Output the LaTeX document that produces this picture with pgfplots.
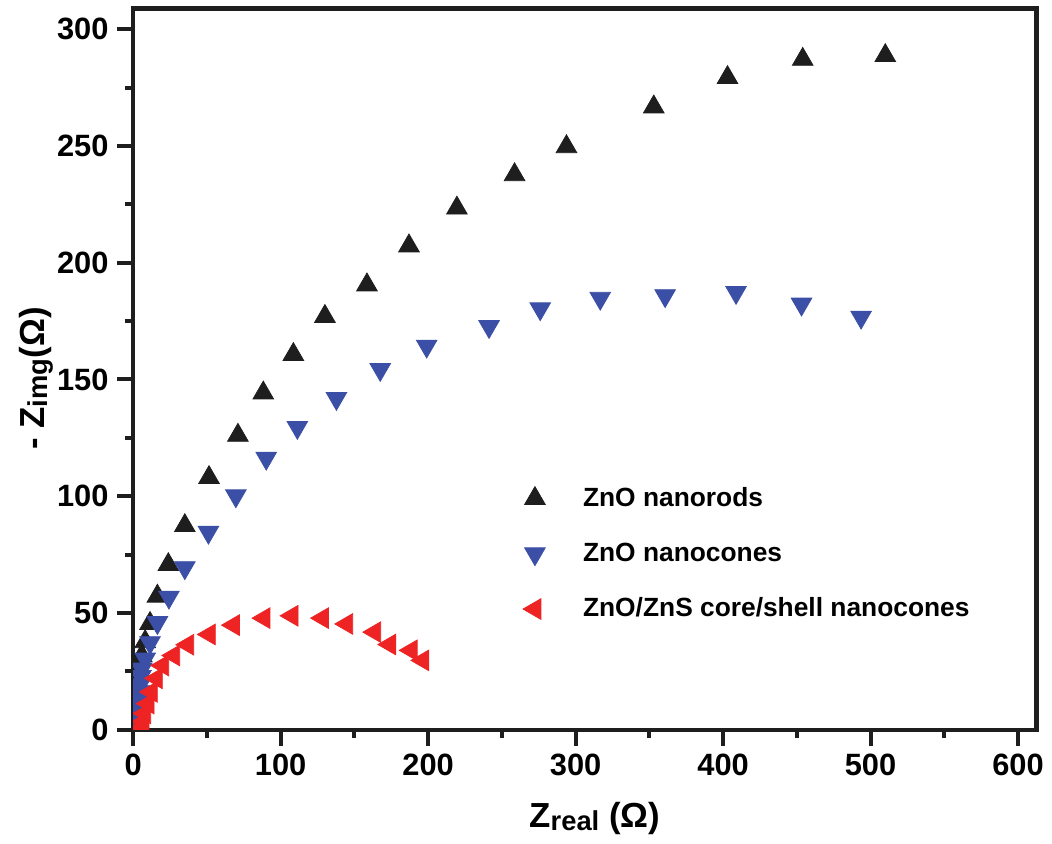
\documentclass[border=0pt]{standalone}
\usepackage{fontspec}
\setmainfont{Liberation Sans}
\usepackage{pgfplots}
\pgfplotsset{compat=1.18}
\definecolor{RodBlack}{HTML}{1E1E1E}
\definecolor{ConeBlue}{HTML}{3B4FA6}
\definecolor{ShellRed}{HTML}{ED2324}
\newcommand\sub[1]{\raisebox{-1pt}{\fontsize{11}{13}\selectfont #1}}

\begin{document}
\begin{tikzpicture}
\begin{axis}[
  name=ax,
  scale only axis,
  width=363.4pt, height=290.2pt,
  xmin=0, xmax=612.5, ymin=0, ymax=308.9,
  xtick={0,100,...,600}, ytick={0,50,...,300},
  minor tick num=1,
  tick pos=left, tick align=outside,
  major tick length=6.4pt, minor tick length=3.4pt,
  every tick/.style={line width=1.6pt, RodBlack},
  axis line style={line width=1.8pt, RodBlack},
  tick label style={font=\fontsize{12.4}{14}\selectfont\bfseries},
  /pgf/number format/assume math mode=true,
  xlabel={Z\sub{real} (Ω)},
  ylabel={- Z\sub{img}(Ω)},
  label style={font=\fontsize{14}{16}\selectfont\bfseries},
  xlabel style={at={(axis description cs:0.511,-0.136)}, anchor=base},
  ylabel style={at={(axis description cs:-0.098,0.487)}, anchor=base},
  clip marker paths=true,
  legend style={draw=none, fill=none, inner sep=0pt, row sep=9.2pt,
    font=\fontsize{10.6}{12}\selectfont\bfseries,
    /tikz/every odd column/.append style={column sep=13.2pt},
    at={(axis description cs:0.431,0.344)}, anchor=north west},
  legend cell align=left,
  legend image code/.code={\draw[mark repeat=2,mark phase=2,#1] plot coordinates {(0pt,0pt) (16.5pt,0pt) (33pt,0pt)};},
]
\addplot[only marks, mark=triangle*, mark size=4.8pt, color=RodBlack,
  mark options={line width=0.3pt}] coordinates {
  (0.4,0.5) (0.5,1.5) (0.7,4) (1.0,7.5) (1.4,11.5) (1.9,16) (2.6,21)
  (3.6,26.7) (5.8,31.7) (8.1,37.7) (11.4,45.5) (16.4,57.2) (23.8,70.7)
  (35,87.4) (51.4,108) (71,126.1) (88.2,144.2) (108.6,160.7) (130,177)
  (158.5,190.5) (187,207.2) (219.5,223.4) (258.6,237.7) (293.8,249.7)
  (353,266.7) (403,279.3) (454,287.1) (510,288.7)
};
\addplot[only marks, mark=triangle*, mark size=4.8pt, color=ConeBlue,
  mark options={rotate=180, line width=0.3pt}] coordinates {
  (2.5,3) (2.8,5.3) (3.1,7.8) (3.4,10.3) (3.8,13.3) (4.2,16.3) (4.7,19.3)
  (5.2,22.8) (5.8,26) (8.1,30.3) (11.4,37.3) (16.4,45.9) (24.2,56.8)
  (35,69.4) (51,84.6) (69.6,100.2) (90.2,116.3) (111.3,129.5)
  (137.8,141.9) (167.5,154.3) (199,164.3) (241.3,172.7) (276,180.3)
  (316.7,184.8) (360.7,185.9) (408.8,187.3) (453.2,182.3) (493.6,176.7)
};
\addplot[only marks, mark=triangle*, mark size=4.8pt, color=ShellRed,
  mark options={rotate=90, line width=0.3pt}] coordinates {
  (6,1) (6.7,3.4) (7.8,7) (10.1,11.2) (12.3,16.2) (15.7,22) (20,27.5)
  (27.5,31.8) (37,36.4) (51.6,40.8) (68,44.8) (88.7,47.8) (107.7,48.8)
  (128.4,47.8) (144.8,45.3) (163.8,41.8) (174,36.5) (188.5,34) (196.4,29.7)
};
\legend{ZnO nanorods, ZnO nanocones, ZnO/ZnS core/shell nanocones}
\end{axis}
\path ([shift={(-53.6pt,-43.6pt)}]ax.south west) rectangle ([shift={(3.8pt,3.4pt)}]ax.north east);
\end{tikzpicture}
\end{document}
